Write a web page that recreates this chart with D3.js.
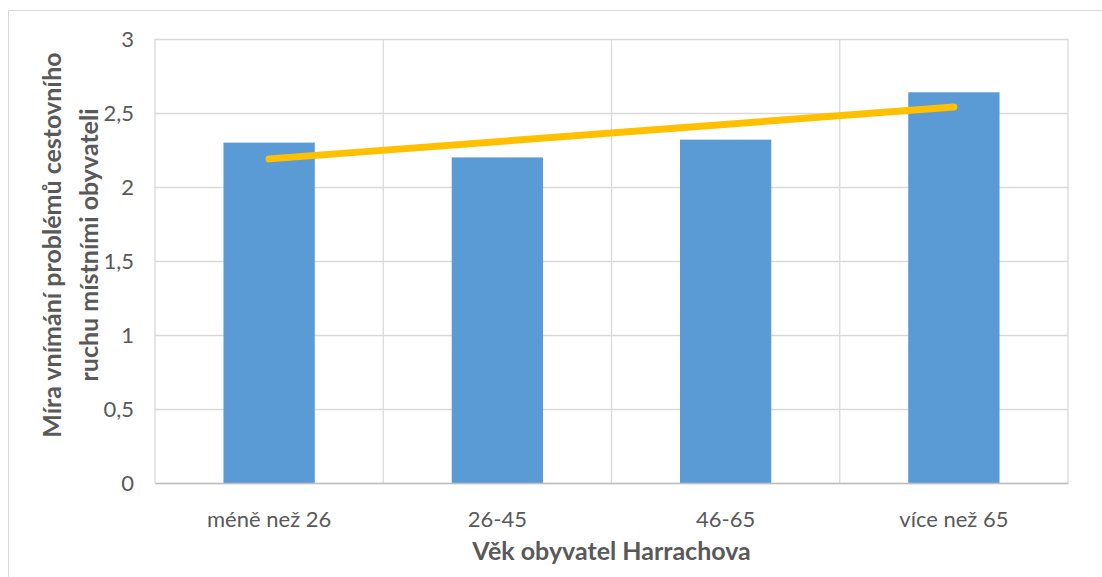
<!DOCTYPE html>
<html>
<head>
<meta charset="utf-8">
<script src="https://cdn.jsdelivr.net/npm/d3@7"></script>
<style>
  body { margin: 0; background: #fff; }
  text { font-family: Lato, "Open Sans", sans-serif; }
</style>
</head>
<body>
<svg id="chart" width="1102" height="577"></svg>
<script>
const categories = ["méně než 26", "26-45", "46-65", "více než 65"];
const values = [2.3, 2.2, 2.32, 2.64];
// linear trend as drawn, read at first and last category
const trendValues = [2.19, 2.54];
const yTicks = [0, 0.5, 1, 1.5, 2, 2.5, 3];
const yTitle = ["Míra vnímání problémů cestovního", "ruchu místními obyvateli"];
const xTitle = "Věk obyvatel Harrachova";

const svg = d3.select("#chart"),
  plotLeft = 155, plotRight = 1068, plotTop = 39, plotBottom = 483;

// chart frame
svg.append("path")
  .attr("d", `M8.5,577 V10.5 H1102`)
  .attr("fill", "none")
  .attr("stroke", "#d9d9d9");

const x = d3.scaleBand()
  .domain(categories)
  .range([plotLeft, plotRight])
  .paddingInner(0.6)
  .paddingOuter(0.3);

const y = d3.scaleLinear()
  .domain([0, 3])
  .range([plotBottom, plotTop]);

const fmt = d => String(d).replace(".", ",");

// horizontal gridlines
svg.append("g")
  .attr("transform", `translate(${plotLeft},0)`)
  .call(d3.axisLeft(y).tickValues(yTicks).tickSize(-(plotRight - plotLeft)).tickFormat(fmt).tickPadding(21))
  .call(g => g.select(".domain").remove())
  .call(g => g.selectAll(".tick line").attr("stroke", "#d9d9d9").attr("stroke-width", 1.3))
  .call(g => g.selectAll(".tick text").attr("fill", "#595959").style("font-size", "22px"));

// vertical gridlines at category boundaries
const step = x.step();
svg.append("g")
  .selectAll("line")
  .data(d3.range(categories.length + 1))
  .join("line")
  .attr("x1", i => plotLeft + i * step)
  .attr("x2", i => plotLeft + i * step)
  .attr("y1", plotTop)
  .attr("y2", plotBottom)
  .attr("stroke", "#d9d9d9")
  .attr("stroke-width", 1.3);

// bars
svg.append("g")
  .selectAll("rect")
  .data(values)
  .join("rect")
  .attr("x", (d, i) => x(categories[i]))
  .attr("y", d => y(d))
  .attr("width", x.bandwidth())
  .attr("height", d => y(0) - y(d))
  .attr("fill", "#5b9bd5");

// x axis
svg.append("g")
  .attr("transform", `translate(0,${plotBottom})`)
  .call(d3.axisBottom(x).tickSize(0).tickPadding(28))
  .call(g => g.select(".domain").attr("stroke", "#bfbfbf").attr("stroke-width", 1.5))
  .call(g => g.selectAll(".tick text").attr("fill", "#595959").style("font-size", "22px"));

// trend line
const first = categories[0], last = categories[categories.length - 1];
svg.append("line")
  .attr("x1", x(first) + x.bandwidth() / 2)
  .attr("y1", y(trendValues[0]))
  .attr("x2", x(last) + x.bandwidth() / 2)
  .attr("y2", y(trendValues[1]))
  .attr("stroke", "#ffc000")
  .attr("stroke-width", 7)
  .attr("stroke-linecap", "round");

// axis titles
svg.append("text")
  .attr("x", (plotLeft + plotRight) / 2)
  .attr("y", 560)
  .attr("text-anchor", "middle")
  .attr("fill", "#595959")
  .style("font-size", "25px")
  .style("font-weight", "bold")
  .text(xTitle);

svg.append("text")
  .attr("transform", "translate(61,245) rotate(-90)")
  .attr("text-anchor", "middle")
  .attr("fill", "#595959")
  .style("font-size", "25px")
  .style("font-weight", "bold")
  .selectAll("tspan")
  .data(yTitle)
  .join("tspan")
  .attr("x", 0)
  .attr("dy", (d, i) => i ? 37 : 0)
  .text(d => d);
</script>
</body>
</html>
